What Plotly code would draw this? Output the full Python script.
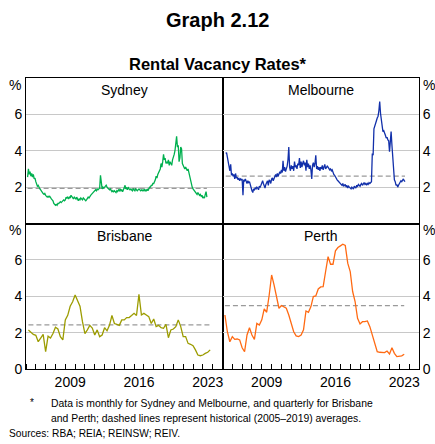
import pandas as pd
import plotly.graph_objects as go
from plotly.subplots import make_subplots

# monthly, from Mar 2005
SYDNEY = [
    2.55, 3.0, 2.7, 2.85, 2.6, 2.75, 2.55, 2.7, 2.45, 2.5,  # 2005
    2.3, 2.2, 2.05, 2.1, 1.95, 1.9, 1.85, 1.75, 1.7, 1.65, 1.6, 1.65,  # 2006
    1.55, 1.5, 1.45, 1.5, 1.45, 1.5, 1.4, 1.35, 1.3, 1.25, 1.1, 1.05,  # 2007
    1.0, 1.05, 1.0, 1.1, 1.1, 1.15, 1.2, 1.15, 1.2, 1.25, 1.3, 1.25,  # 2008
    1.3, 1.45, 1.4, 1.45, 1.35, 1.45, 1.4, 1.55, 1.45, 1.4, 1.35, 1.45,  # 2009
    1.4, 1.35, 1.45, 1.3, 1.25, 1.35, 1.3, 1.4, 1.35, 1.3, 1.4, 1.35,  # 2010
    1.3, 1.25, 1.3, 1.35, 1.45, 1.4, 1.5, 1.55, 1.6, 1.65, 1.7, 1.75,  # 2011
    1.8, 1.85, 1.8, 1.9, 1.85, 1.9, 1.95, 2.65, 2.0, 1.9, 2.0, 1.95,  # 2012
    2.0, 2.05, 2.1, 2.0, 1.95, 1.9, 1.85, 1.9, 1.8, 1.75, 1.8, 1.75,  # 2013
    1.8, 1.75, 1.7, 1.8, 1.75, 1.85, 1.8, 1.9, 1.8, 1.85, 1.75, 1.85,  # 2014
    2.0, 2.1, 1.9, 1.95, 1.85, 2.0, 1.9, 1.85, 1.9, 1.85, 1.8, 1.9,  # 2015
    1.85, 1.8, 1.9, 1.85, 1.8, 1.85, 1.9, 1.85, 1.8, 1.85, 1.8, 1.85,  # 2016
    1.8, 1.9, 1.8, 1.8, 1.9, 1.8, 1.9, 2.0, 2.0, 2.1, 2.1, 2.2,  # 2017
    2.2, 2.3, 2.4, 2.6, 2.5, 2.7, 2.8, 2.9, 3.0, 3.3, 3.1, 3.4,  # 2018
    3.8, 3.5, 3.6, 3.3, 3.4, 3.3, 3.5, 3.2, 3.4, 3.3, 3.2, 3.5,  # 2019
    3.6, 3.8, 4.0, 4.3, 4.8, 4.2, 4.3, 3.4, 3.6, 4.2, 4.1, 3.3,  # 2020
    3.2, 3.1, 3.0, 3.1, 3.0, 2.9, 3.0, 2.8, 2.6, 2.3, 2.2, 2.0,  # 2021
    1.9, 1.85, 1.8, 1.7, 1.65, 1.6, 1.7, 1.6, 1.55, 1.6, 1.5, 1.55,  # 2022
    1.4, 1.45, 1.4, 1.6, 1.75, 1.45,  # 2023
]

# monthly, from May 2005
MELBOURNE = [
    3.85, 3.9, 3.65, 3.4, 3.1, 2.9, 3.25, 2.65,  # 2005
    2.75, 2.6, 2.7, 2.45, 2.75, 2.5, 2.55, 2.4, 2.5, 2.35, 2.45, 2.4,  # 2006
    2.45, 1.55, 2.4, 2.35, 2.45, 2.3, 2.2, 2.35, 2.25, 2.3, 2.1, 2.05,  # 2007
    1.8, 1.7, 1.9, 1.85, 1.95, 1.9, 2.0, 1.95, 1.85, 2.05, 2.0, 2.1,  # 2008
    2.2, 2.35, 2.2, 2.1, 1.95, 2.15, 2.25, 2.35, 2.1, 2.4, 2.35, 2.2,  # 2009
    2.45, 2.5, 2.35, 2.45, 2.6, 2.7, 2.55, 2.75, 2.6, 2.8, 2.85, 2.75,  # 2010
    2.95, 2.8, 3.45, 2.9, 3.1, 2.85, 3.0, 3.15, 3.5, 4.2, 3.1, 2.9,  # 2011
    3.2, 3.0, 3.15, 2.9, 3.4, 3.1, 3.2, 3.0, 3.3, 3.2, 3.6, 3.05,  # 2012
    3.4, 3.1, 3.3, 3.45, 3.2, 3.35, 2.9, 3.5, 3.1, 3.3, 3.0, 3.2,  # 2013
    2.95, 2.45, 3.2, 3.35, 3.1, 3.3, 3.75, 3.0, 3.15, 2.95, 3.1, 2.9,  # 2014
    3.1, 3.0, 3.2, 2.95, 3.1, 3.25, 3.0, 3.05, 3.15, 3.1, 3.0, 2.95,  # 2015
    3.0, 2.9, 2.95, 2.8, 2.7, 2.65, 2.55, 2.45, 2.4, 2.35, 2.3, 2.2,  # 2016
    2.2, 2.15, 2.1, 2.2, 2.05, 2.1, 2.15, 2.0, 2.1, 1.95, 2.05, 2.0,  # 2017
    1.95, 1.9, 2.0, 1.95, 1.9, 2.05, 2.0, 1.95, 2.1, 2.05, 2.15, 2.1,  # 2018
    2.05, 2.15, 2.2, 2.1, 2.2, 2.25, 2.15, 2.2, 2.1, 2.2, 2.15, 2.25,  # 2019
    2.2, 2.25, 2.3, 3.85, 3.75, 5.2, 5.4, 5.6, 5.65, 5.8, 5.9, 6.2,  # 2020
    6.7, 6.05, 5.6, 5.15, 5.05, 5.1, 4.9, 4.85, 4.7, 4.75, 4.6, 4.55,  # 2021
    3.95, 4.8, 5.05, 4.3, 3.4, 2.66, 2.4, 2.3, 2.1, 2.15, 2.0, 2.1,  # 2022
    2.2, 2.25, 2.35, 2.3, 2.4, 2.45, 2.35, 2.3,  # 2023
]

# quarterly, from Q2 2005
BRISBANE = [
    2.15, 2.0, 1.9, 1.85, 1.5, 1.7, 1.9, 0.95, 1.8, 1.7, 1.95, 2.3,
    2.2, 1.78, 1.6, 2.7, 2.95, 3.45, 3.7, 4.07, 3.8, 3.45, 2.6, 1.95,
    2.15, 2.4, 2.25, 1.87, 2.15, 1.78, 1.87, 2.27, 2.1, 2.4, 2.94, 2.5,
    2.45, 2.4, 2.7, 2.7, 2.83, 2.83, 2.94, 3.06, 2.94, 4.1, 2.97, 3.06,
    2.97, 2.88, 2.5, 2.75, 2.33, 2.4, 2.27, 2.24, 2.46, 1.72, 2.15, 2.2,
    2.33, 2.7, 2.33, 1.78, 1.78, 1.41, 1.36, 1.28, 1.05, 0.77, 0.73, 0.77,
    0.86, 0.92, 1.05,
]

PERTH = [
    2.97, 2.05, 1.5, 1.78, 1.63, 1.65, 1.6, 1.17, 0.95, 1.87, 2.27, 1.87,
    1.63, 2.51, 2.42, 2.7, 3.3, 3.12, 4.04, 5.17, 4.62, 3.98, 3.34, 3.49,
    3.43, 3.34, 2.97, 2.51, 2.05, 1.82, 1.78, 1.87, 2.15, 3.19, 3.12, 3.43,
    3.98, 4.02, 4.4, 4.51, 4.53, 5.36, 6.18, 5.76, 5.76, 6.5, 6.68, 6.77,
    6.86, 6.79, 5.82, 5.36, 4.26, 3.71, 2.79, 2.48, 2.6, 2.6, 2.64, 2.33,
    1.87, 1.32, 0.95, 0.92, 0.92, 0.9, 0.99, 0.83, 1.17, 0.86, 0.68, 0.68,
    0.72, 0.81,
]

# 2005-2019 averages (dashed lines)
AVERAGES = {"Sydney": 1.93, "Melbourne": 2.6, "Brisbane": 2.43, "Perth": 3.48}

syd_dates = pd.date_range("2005-03-01", periods=len(SYDNEY), freq="MS")
mel_dates = pd.date_range("2005-05-01", periods=len(MELBOURNE), freq="MS")
bne_dates = pd.date_range("2005-04-01", periods=len(BRISBANE), freq="QS")
per_dates = pd.date_range("2005-04-01", periods=len(PERTH), freq="QS")

FONT = "Arial, 'Liberation Sans', sans-serif"
W, H = 435, 444
L, R, T, B = 26, 16, 78, 75


def px(x):
    return (x - L) / (W - L - R)


def py(y):
    return (H - B - y) / (H - T - B)


fig = make_subplots(rows=2, cols=2, horizontal_spacing=0, vertical_spacing=0)

panels = [
    ("Sydney", syd_dates, SYDNEY, "#00b04f", 1, 1),
    ("Melbourne", mel_dates, MELBOURNE, "#1230aa", 1, 2),
    ("Brisbane", bne_dates, BRISBANE, "#9c9c00", 2, 1),
    ("Perth", per_dates, PERTH, "#ff6a13", 2, 2),
]

for name, dates, vals, colour, r, c in panels:
    avg = AVERAGES[name]
    fig.add_trace(
        go.Scatter(
            x=[dates[0], dates[-1]],
            y=[avg, avg],
            mode="lines",
            line=dict(color="#9a9a9a", width=1.2, dash="5px,3px"),
            hoverinfo="skip",
        ),
        row=r,
        col=c,
    )
    fig.add_trace(
        go.Scatter(x=dates, y=vals, mode="lines", line=dict(color=colour, width=1.3), name=name),
        row=r,
        col=c,
    )
    idx = (r - 1) * 2 + c
    sfx = "" if idx == 1 else str(idx)
    fig.add_annotation(
        text=name,
        xref=f"x{sfx} domain",
        yref=f"y{sfx} domain",
        x=0.5,
        y=0.985,
        xanchor="center",
        yanchor="top",
        showarrow=False,
        font=dict(size=14, color="black"),
    )
    # "%" unit label at the top of each y axis
    fig.add_annotation(
        text="%",
        xref=f"x{sfx} domain",
        yref=f"y{sfx}",
        x=0 if c == 1 else 1,
        y=7.62,
        xanchor="right" if c == 1 else "left",
        xshift=-3 if c == 1 else 2,
        yanchor="middle",
        showarrow=False,
        font=dict(size=14, color="black"),
    )

fig.update_xaxes(
    range=["2005-01-01", "2025-01-01"],
    showline=True,
    mirror=True,
    linecolor="black",
    linewidth=1,
    showgrid=False,
    zeroline=False,
    automargin=False,
)
fig.update_xaxes(showticklabels=False, ticks="", row=1)
fig.update_xaxes(
    tickmode="array",
    tickvals=["2009-07-02", "2016-07-02", "2023-07-02"],
    ticktext=["2009", "2016", "2023"],
    ticks="",
    tickfont=dict(size=14, color="black"),
    minor=dict(ticks="inside", ticklen=5, tickcolor="black", tickwidth=1,
               dtick="M12", tick0="2005-01-01", showgrid=False),
    row=2,
)

fig.update_yaxes(
    range=[0, 8],
    showline=True,
    mirror=True,
    linecolor="black",
    linewidth=1,
    showgrid=True,
    gridcolor="#c8c8c8",
    gridwidth=1,
    zeroline=False,
    ticks="",
    tickfont=dict(size=14, color="black"),
    automargin=False,
)
fig.update_yaxes(tickvals=[2, 4, 6], row=1)
fig.update_yaxes(tickvals=[0, 2, 4, 6], row=2)
fig.update_yaxes(side="right", col=2)

notes = [
    ("<b>Graph 2.12</b>", 0.5, 20, 20, "center"),
    ("<b>Rental Vacancy Rates*</b>", 0.5, 64, 16.5, "center"),
    ("*", px(28), 402, 10, "left"),
    ("Data is monthly for Sydney and Melbourne, and quarterly for Brisbane", px(49), 403, 10.4, "left"),
    ("and Perth; dashed lines represent historical (2005–2019) averages.", px(49), 418, 10.4, "left"),
    ("Sources: RBA; REIA; REINSW; REIV.", px(6.5), 433, 10.2, "left"),
]
for text, x, y, size, anchor in notes:
    fig.add_annotation(
        text=text,
        xref="paper",
        yref="paper",
        x=x if anchor == "left" else px(W / 2),
        y=py(y),
        xanchor=anchor,
        yanchor="middle",
        showarrow=False,
        font=dict(size=size, color="black"),
    )

fig.update_layout(
    width=W,
    height=H,
    margin=dict(l=L, r=R, t=T, b=B),
    showlegend=False,
    paper_bgcolor="white",
    plot_bgcolor="white",
    font=dict(family=FONT, color="black"),
)

fig.write_html(
    "out.html",
    config={"displayModeBar": False},
    post_script="document.body.style.margin = '0';",
)
